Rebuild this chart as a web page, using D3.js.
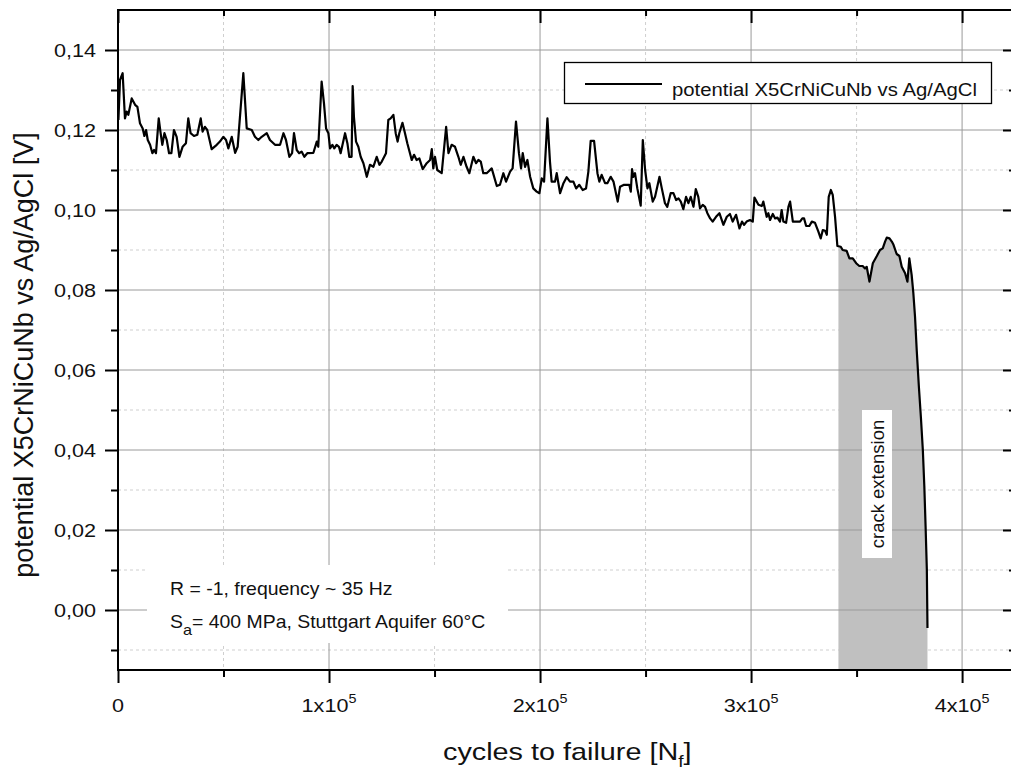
<!DOCTYPE html>
<html>
<head>
<meta charset="utf-8">
<script src="https://cdn.jsdelivr.net/npm/d3@7"></script>
<style>
body { margin: 0; background: #fff; }
svg { display: block; font-family: "Liberation Sans", Arial, sans-serif; }
</style>
</head>
<body>
<svg id="chart" width="1011" height="770"></svg>
<script>
// cycles in thousands, potential in V
var cyclesK = [
    0.2, 0.95, 2.2, 3.3, 4.1, 4.9, 6.5, 8.1, 9.2, 10.4, 11.7, 12.5, 13.3, 14.1, 15.2, 16.3, 17.1, 18.0,
    19.3, 20.2, 21.0, 22.0, 23.1, 24.2, 25.3, 26.5, 27.8, 29.1, 30.6, 32.2, 33.3, 34.4, 36.0, 37.6,
    39.2, 40.1, 41.2, 42.3, 44.4, 46.8, 48.3, 49.9, 51.2, 52.3, 53.9, 55.5, 56.7, 59.4, 61.0, 63.4,
    64.9, 66.5, 68.1, 70.5, 72.0, 74.4, 76.8, 78.4, 79.6, 81.2, 82.5, 83.4, 84.7, 85.8, 87.0, 88.3,
    89.7, 92.6, 94.2, 94.9, 96.5, 97.6, 98.6, 99.7, 100.5, 101.6, 102.5, 103.6, 104.7, 105.5, 107.6,
    108.7, 109.6, 110.7, 111.2, 111.8, 112.8, 113.9, 115.0, 116.3, 117.9, 119.4, 121.0, 122.6, 123.9,
    125.0, 127.0, 128.1, 129.2, 130.5, 131.6, 132.5, 133.3, 134.8, 136.0, 137.1, 139.2, 140.3, 141.5,
    142.8, 144.4, 146.3, 147.9,
    148.7, 149.4, 150.2, 151.3, 153.4, 155.5, 156.6, 158.1, 159.7, 161.3, 162.4, 163.7, 165.2, 166.5,
    168.4, 169.7, 170.8, 171.9, 173.1, 174.7, 177.1, 179.5, 181.0, 182.6, 183.9, 185.8, 187.0, 188.6,
    190.0, 191.0, 191.8, 192.9, 194.0, 195.3, 196.8, 198.4, 199.7, 200.8, 201.9, 203.5, 204.7, 205.5,
    207.1, 207.9, 209.5, 211.1, 212.6, 214.2, 215.8, 217.1, 218.6, 220.2, 221.8, 222.9, 224.0, 225.6,
    227.2, 228.1, 229.2, 230.8, 231.9, 233.5, 234.8, 236.8, 237.9, 239.8, 242.3, 243.0, 243.6, 244.2,
    245.0, 246.1, 247.7, 248.7, 249.8, 250.9, 251.8, 253.4, 254.5, 256.6, 257.7, 259.2, 260.3, 261.9,
    263.2, 264.5, 265.6, 266.7, 267.9, 269.2, 270.3, 271.4, 272.7, 273.8, 275.0, 275.8, 277.1, 278.2,
    279.3, 280.6, 281.8, 283.4, 285.0, 286.9, 288.5, 290.0, 291.3, 292.9, 294.5, 295.7, 296.7, 297.9,
    299.5,
    300.8, 301.6, 303.5, 305.1, 305.8, 307.4, 308.2, 309.0, 310.3, 311.4, 312.5, 313.7, 314.5, 315.3,
    316.6, 317.7, 318.5, 319.8, 321.6, 323.2, 324.3, 325.1, 326.1, 327.6, 328.8, 330.3, 331.9, 333.0,
    334.0, 335.1, 335.9, 336.8, 337.8, 338.7, 339.8, 340.9, 342.5, 343.4, 345.3, 346.6, 348.2, 349.8,
    351.3, 352.9, 354.0, 354.8, 356.1, 357.7, 359.6, 361.1, 362.4, 363.5, 364.3, 365.6, 366.7, 367.5,
    369.0, 370.3, 371.4, 373.0, 374.1, 375.0, 376.1, 376.9, 377.7, 378.5, 379.5, 380.5, 381.4, 382.1,
    382.7, 383.3, 383.6
]
var potential = [
    0.1225, 0.1325, 0.1342, 0.1229, 0.1246, 0.1238, 0.1279, 0.1263, 0.1258, 0.1217, 0.1204, 0.1185, 0.1200, 0.1175, 0.1163, 0.1142, 0.1150, 0.1142,
    0.1229, 0.1192, 0.1163, 0.1192, 0.1175, 0.1142, 0.1142, 0.1200, 0.1183, 0.1133, 0.1158, 0.1167, 0.1229, 0.1192, 0.1185, 0.1188,
    0.1229, 0.1196, 0.1208, 0.1200, 0.1152, 0.1163, 0.1171, 0.1183, 0.1175, 0.1154, 0.1183, 0.1143, 0.1158, 0.1342, 0.1204, 0.1200,
    0.1183, 0.1175, 0.1183, 0.1192, 0.1175, 0.1163, 0.1163, 0.1192, 0.1175, 0.1133, 0.1142, 0.1192, 0.1150, 0.1142, 0.1146, 0.1133,
    0.1142, 0.1143, 0.1171, 0.1158, 0.1321, 0.1267, 0.1204, 0.1192, 0.1154, 0.1163, 0.1154, 0.1163, 0.1158, 0.1142, 0.1192,
    0.1167, 0.1133, 0.1133, 0.1310, 0.1233, 0.1171, 0.1158, 0.1133, 0.1117, 0.1083, 0.1113, 0.1108, 0.1133, 0.1113,
    0.1121, 0.1142, 0.1225, 0.1229, 0.1238, 0.1192, 0.1171, 0.1192, 0.1218, 0.1192, 0.1167, 0.1125, 0.1138, 0.1125,
    0.1129, 0.1102, 0.1117, 0.1125,
    0.1152, 0.1104, 0.1133, 0.1100, 0.1092, 0.1208, 0.1142, 0.1163, 0.1158, 0.1133, 0.1113, 0.1133, 0.1108, 0.1092,
    0.1133, 0.1117, 0.1125, 0.1121, 0.1092, 0.1092, 0.1104, 0.1060, 0.1063, 0.1092, 0.1071, 0.1096, 0.1104, 0.1221,
    0.1142, 0.1104, 0.1142, 0.1108, 0.1125, 0.1083, 0.1054, 0.1046, 0.1042, 0.1079, 0.1071, 0.1229, 0.1121, 0.1071,
    0.1071, 0.1092, 0.1042, 0.1067, 0.1082, 0.1071, 0.1071, 0.1054, 0.1063, 0.1050, 0.1054, 0.1096, 0.1173, 0.1173,
    0.1092, 0.1071, 0.1088, 0.1067, 0.1067, 0.1083, 0.1071, 0.1021, 0.1058, 0.1063, 0.1063, 0.1046, 0.1102, 0.1083,
    0.1092, 0.1054, 0.1011, 0.1175, 0.1100, 0.1054, 0.1067, 0.1021, 0.1033, 0.1083, 0.1054, 0.1017, 0.1008, 0.1042,
    0.1042, 0.1025, 0.1029, 0.1021, 0.1002, 0.1033, 0.1017, 0.1033, 0.1008, 0.1052, 0.1033, 0.1004, 0.1013, 0.1008,
    0.0992, 0.0979, 0.0971, 0.0983, 0.0992, 0.0963, 0.0983, 0.0990, 0.0971, 0.0988, 0.0954, 0.0971, 0.0963, 0.0971,
    0.0975,
    0.0971, 0.1031, 0.1013, 0.1010, 0.1021, 0.0983, 0.0992, 0.0975, 0.0990, 0.0979, 0.0981, 0.0971, 0.1000, 0.0971,
    0.0968, 0.1008, 0.1021, 0.0971, 0.0971, 0.0971, 0.0979, 0.0979, 0.0960, 0.0960, 0.0971, 0.0968, 0.0946, 0.0929,
    0.0950, 0.0948, 0.0938, 0.1033, 0.1050, 0.1038, 0.0983, 0.0910, 0.0908, 0.0900, 0.0898, 0.0879, 0.0879, 0.0867,
    0.0860, 0.0860, 0.0854, 0.0858, 0.0821, 0.0867, 0.0885, 0.0900, 0.0904, 0.0921, 0.0931, 0.0929, 0.0921, 0.0913,
    0.0890, 0.0885, 0.0858, 0.0842, 0.0821, 0.0879, 0.0838, 0.0792, 0.0733, 0.0650, 0.0560, 0.0480, 0.0400, 0.0310,
    0.0210, 0.0100, -0.0045
]

var xMajorTicks = [0, 100000, 200000, 300000, 400000]
var xMinorTicks = [50000, 150000, 250000, 350000]
var xTickLabels = [["0", ""], ["1x10", "5"], ["2x10", "5"], ["3x10", "5"], ["4x10", "5"]]
var yMajorTicks = [0, 0.02, 0.04, 0.06, 0.08, 0.10, 0.12, 0.14]
var yMinorTicks = [-0.01, 0.01, 0.03, 0.05, 0.07, 0.09, 0.11, 0.13]
var yTickLabels = ["0,00", "0,02", "0,04", "0,06", "0,08", "0,10", "0,12", "0,14"]

var crackStartK = 341.4
var crackEndK = 383.6
var legendLabel = "potential X5CrNiCuNb vs Ag/AgCl"
var crackLabel = "crack extension"
var noteLine1 = "R = -1, frequency ~ 35 Hz"
var noteLine2 = ["S", "a", "= 400 MPa, Stuttgart Aquifer 60°C"]

// ---------------------------------------------------------- //

var L = 118, R = 1014, T = 10, B = 670

var x = d3.scaleLinear().domain([0, 424600]).range([L, R])
var y = d3.scaleLinear().domain([-0.015, 0.15]).range([B, T])

var svg = d3.select("#chart")

var data = cyclesK.map(function(k, i) { return { c: k * 1000, v: potential[i] } })

// minor grid (sits under the grey band)
var grid = svg.append("g")
grid.selectAll("line.xminor")
    .data(xMinorTicks).enter().append("line")
    .attr("x1", function(d) { return x(d) }).attr("x2", function(d) { return x(d) })
    .attr("y1", T).attr("y2", B)
    .style("stroke", "#cfcfcf").style("stroke-dasharray", "3,3")
grid.selectAll("line.yminor")
    .data(yMinorTicks).enter().append("line")
    .attr("y1", function(d) { return y(d) }).attr("y2", function(d) { return y(d) })
    .attr("x1", L).attr("x2", R)
    .style("stroke", "#cfcfcf").style("stroke-dasharray", "3,3")

// crack extension band: area under the curve
var bis = d3.bisector(function(d) { return d.c }).left
var c0 = crackStartK * 1000, c1 = crackEndK * 1000
var i0 = bis(data, c0)
var a = data[i0 - 1], b = data[i0]
var v0 = a.v + (b.v - a.v) * (c0 - a.c) / (b.c - a.c)
var band = [{ c: c0, v: v0 }].concat(data.filter(function(d) { return d.c > c0 && d.c <= c1 }))

svg.append("path")
    .datum(band)
    .attr("d", d3.area()
        .x(function(d) { return x(d.c) })
        .y0(y(-0.015))
        .y1(function(d) { return y(d.v) }))
    .style("fill", "#c0c0c0")

// major grid
svg.append("g").selectAll("line")
    .data(xMajorTicks.slice(1)).enter().append("line")
    .attr("x1", function(d) { return x(d) }).attr("x2", function(d) { return x(d) })
    .attr("y1", T).attr("y2", B)
    .style("stroke", "#9a9a9a")
svg.append("g").selectAll("line")
    .data(yMajorTicks).enter().append("line")
    .attr("y1", function(d) { return y(d) }).attr("y2", function(d) { return y(d) })
    .attr("x1", L).attr("x2", R)
    .style("stroke", "#9a9a9a")

// the potential curve
svg.append("path")
    .datum(data)
    .attr("d", d3.line().x(function(d) { return x(d.c) }).y(function(d) { return y(d.v) }))
    .style("fill", "none")
    .style("stroke", "#000")
    .style("stroke-width", 2.2)
    .style("stroke-linejoin", "round")

// axes
function ticks(axis, vals, size, tr) {
    var g = svg.append("g").attr("transform", tr)
        .call(axis.tickValues(vals).tickSize(size).tickSizeOuter(0).tickFormat(""))
    g.select(".domain").remove()
    g.selectAll(".tick line").style("stroke", "#000").style("stroke-width", 2)
    return g
}
ticks(d3.axisBottom(x), xMajorTicks, 13, "translate(0," + B + ")")
ticks(d3.axisBottom(x), xMinorTicks, 7, "translate(0," + B + ")")
ticks(d3.axisTop(x), xMajorTicks, -13, "translate(0," + T + ")")
ticks(d3.axisTop(x), xMinorTicks, -6, "translate(0," + T + ")")
ticks(d3.axisLeft(y), yMajorTicks, 13, "translate(" + L + ",0)")
ticks(d3.axisLeft(y), yMinorTicks, 7, "translate(" + L + ",0)")
ticks(d3.axisRight(y), yMajorTicks, -11, "translate(" + R + ",0)")
ticks(d3.axisRight(y), yMinorTicks, -5, "translate(" + R + ",0)")

svg.append("path")
    .attr("d", "M" + R + "," + T + "H" + L + "V" + B + "H" + R)
    .style("fill", "none").style("stroke", "#000").style("stroke-width", 2)

// stretched text helper (glyphs are a bit wide in the original)
function label(tx, ty, sx, size, anchor) {
    return svg.append("text")
        .attr("transform", "translate(" + tx + "," + ty + ") scale(" + sx + ",1)")
        .attr("text-anchor", anchor)
        .style("font-size", size + "px")
        .style("fill", "#111")
}

yMajorTicks.forEach(function(d, i) {
    label(96, y(d) + 6.5, 1.2, 18, "end").text(yTickLabels[i])
})
xMajorTicks.forEach(function(d, i) {
    var t = label(x(d), 712, 1.2, 18, "middle")
    t.append("tspan").text(xTickLabels[i][0])
    if (xTickLabels[i][1]) {
        t.append("tspan").attr("dy", -9).style("font-size", "12px").text(xTickLabels[i][1])
    }
})

// axis titles
var xt = label(443, 760, 1.2, 24, "start")
xt.append("tspan").text("cycles to failure [N")
xt.append("tspan").attr("dy", 7).style("font-size", "16px").text("f")
xt.append("tspan").attr("dy", -7).text("]")

svg.append("text")
    .attr("transform", "translate(33,355) rotate(-90)")
    .attr("text-anchor", "middle")
    .style("font-size", "27px")
    .style("fill", "#111")
    .text("potential X5CrNiCuNb vs Ag/AgCl [V]")

// legend
svg.append("rect")
    .attr("x", 564.5).attr("y", 62.5).attr("width", 427).attr("height", 41)
    .style("fill", "#fff").style("stroke", "#000").style("stroke-width", 1.3)
svg.append("line")
    .attr("x1", 585).attr("x2", 662).attr("y1", 84).attr("y2", 84)
    .style("stroke", "#000").style("stroke-width", 2)
label(672, 96, 1.13, 18, "start").text(legendLabel)

// crack extension label
svg.append("rect")
    .attr("x", 862).attr("y", 410).attr("width", 30).attr("height", 148)
    .style("fill", "#fff")
svg.append("text")
    .attr("transform", "translate(877,484) rotate(-90)")
    .attr("text-anchor", "middle")
    .attr("dominant-baseline", "central")
    .style("font-size", "18.5px")
    .style("fill", "#111")
    .text(crackLabel)

// test conditions box
svg.append("rect")
    .attr("x", 147).attr("y", 565).attr("width", 361).attr("height", 78)
    .style("fill", "#fff")
label(170, 595, 1.08, 18, "start").text(noteLine1)
var n2 = label(170, 628, 1.08, 18, "start")
n2.append("tspan").text(noteLine2[0])
n2.append("tspan").attr("dy", 7).style("font-size", "15px").text(noteLine2[1])
n2.append("tspan").attr("dy", -7).text(noteLine2[2])
</script>
</body>
</html>
